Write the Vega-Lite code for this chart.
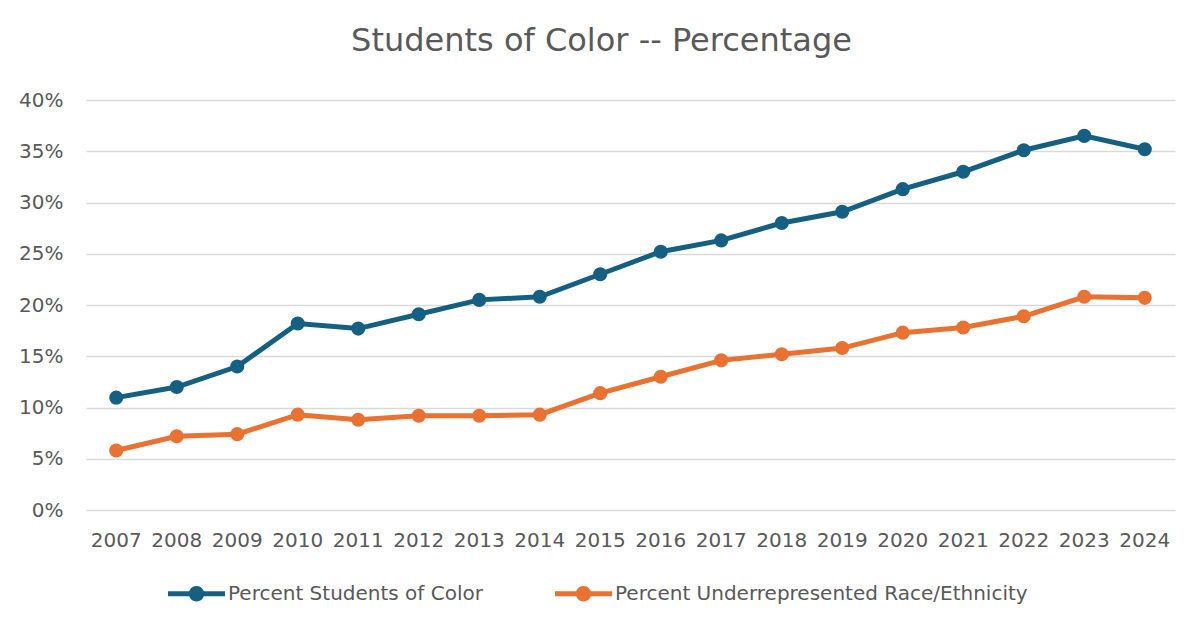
{
  "$schema": "https://vega.github.io/schema/vega-lite/v6.json",
  "width": 1089,
  "height": 410,
  "autosize": {"type": "none"},
  "padding": {"left": 86, "top": 100, "right": 27, "bottom": 122},
  "background": "white",
  "title": {
    "text": "Students of Color -- Percentage",
    "fontSize": 32,
    "font": "DejaVu Sans",
    "fontWeight": "normal",
    "color": "#595959",
    "anchor": "middle",
    "dx": -29,
    "offset": 32
  },
  "config": {
    "view": {"stroke": null},
    "font": "DejaVu Sans",
    "axis": {"labelFont": "DejaVu Sans", "labelFontSize": 20, "labelColor": "#595959", "domain": false, "ticks": false, "title": null}
  },
  "data": {
    "values": [
      {"year": "2007", "series": "Percent Students of Color", "value": 0.1096},
      {"year": "2008", "series": "Percent Students of Color", "value": 0.120},
      {"year": "2009", "series": "Percent Students of Color", "value": 0.140},
      {"year": "2010", "series": "Percent Students of Color", "value": 0.182},
      {"year": "2011", "series": "Percent Students of Color", "value": 0.177},
      {"year": "2012", "series": "Percent Students of Color", "value": 0.191},
      {"year": "2013", "series": "Percent Students of Color", "value": 0.205},
      {"year": "2014", "series": "Percent Students of Color", "value": 0.208},
      {"year": "2015", "series": "Percent Students of Color", "value": 0.230},
      {"year": "2016", "series": "Percent Students of Color", "value": 0.252},
      {"year": "2017", "series": "Percent Students of Color", "value": 0.263},
      {"year": "2018", "series": "Percent Students of Color", "value": 0.280},
      {"year": "2019", "series": "Percent Students of Color", "value": 0.291},
      {"year": "2020", "series": "Percent Students of Color", "value": 0.313},
      {"year": "2021", "series": "Percent Students of Color", "value": 0.330},
      {"year": "2022", "series": "Percent Students of Color", "value": 0.351},
      {"year": "2023", "series": "Percent Students of Color", "value": 0.365},
      {"year": "2024", "series": "Percent Students of Color", "value": 0.352},
      {"year": "2007", "series": "Percent Underrepresented Race/Ethnicity", "value": 0.058},
      {"year": "2008", "series": "Percent Underrepresented Race/Ethnicity", "value": 0.072},
      {"year": "2009", "series": "Percent Underrepresented Race/Ethnicity", "value": 0.074},
      {"year": "2010", "series": "Percent Underrepresented Race/Ethnicity", "value": 0.093},
      {"year": "2011", "series": "Percent Underrepresented Race/Ethnicity", "value": 0.088},
      {"year": "2012", "series": "Percent Underrepresented Race/Ethnicity", "value": 0.092},
      {"year": "2013", "series": "Percent Underrepresented Race/Ethnicity", "value": 0.092},
      {"year": "2014", "series": "Percent Underrepresented Race/Ethnicity", "value": 0.093},
      {"year": "2015", "series": "Percent Underrepresented Race/Ethnicity", "value": 0.114},
      {"year": "2016", "series": "Percent Underrepresented Race/Ethnicity", "value": 0.130},
      {"year": "2017", "series": "Percent Underrepresented Race/Ethnicity", "value": 0.146},
      {"year": "2018", "series": "Percent Underrepresented Race/Ethnicity", "value": 0.152},
      {"year": "2019", "series": "Percent Underrepresented Race/Ethnicity", "value": 0.158},
      {"year": "2020", "series": "Percent Underrepresented Race/Ethnicity", "value": 0.173},
      {"year": "2021", "series": "Percent Underrepresented Race/Ethnicity", "value": 0.178},
      {"year": "2022", "series": "Percent Underrepresented Race/Ethnicity", "value": 0.189},
      {"year": "2023", "series": "Percent Underrepresented Race/Ethnicity", "value": 0.208},
      {"year": "2024", "series": "Percent Underrepresented Race/Ethnicity", "value": 0.207}
    ]
  },
  "encoding": {
    "x": {
      "field": "year", "type": "ordinal",
      "scale": {"type": "band", "paddingInner": 0, "paddingOuter": 0},
      "axis": {"labelAngle": 0, "labelPadding": 20, "grid": false}
    },
    "y": {
      "field": "value", "type": "quantitative",
      "scale": {"domain": [0, 0.4], "nice": false},
      "axis": {"format": ".0%", "values": [0, 0.05, 0.1, 0.15, 0.2, 0.25, 0.3, 0.35, 0.4], "grid": true, "gridColor": "#D9D9D9", "gridWidth": 1.5, "labelPadding": 23}
    },
    "color": {
      "field": "series", "type": "nominal",
      "scale": {"domain": ["Percent Students of Color", "Percent Underrepresented Race/Ethnicity"], "range": ["#156082", "#E97132"]},
      "legend": {
        "title": null,
        "orient": "none",
        "direction": "horizontal",
        "legendX": 82,
        "legendY": 465,
        "symbolType": "M-1,-0.09L1,-0.09L1,0.09L-1,0.09Z M0.27,0A0.27,0.27,0,1,1,-0.27,0A0.27,0.27,0,1,1,0.27,0Z",
        "symbolSize": 3249,
        "symbolStrokeWidth": 0,
        "labelFontSize": 20,
        "labelFont": "DejaVu Sans",
        "labelColor": "#595959",
        "labelOffset": 3,
        "labelLimit": 0,
        "columnPadding": 72
      }
    }
  },
  "layer": [
    {"mark": {"type": "line", "strokeWidth": 5}},
    {"mark": {"type": "point", "filled": true, "opacity": 1, "size": 200}}
  ]
}
